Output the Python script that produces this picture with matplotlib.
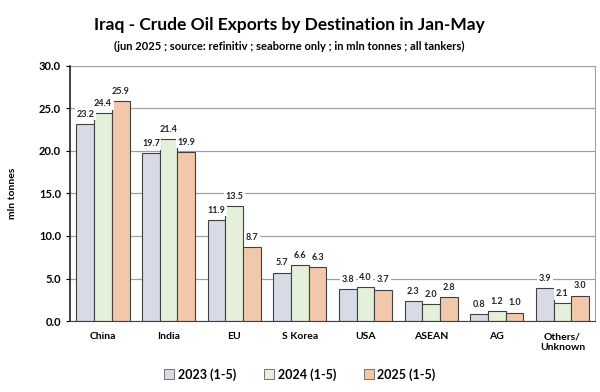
import numpy as np
import matplotlib.pyplot as plt
from matplotlib.patches import Patch

plt.rcParams['font.family'] = ['Lato', 'DejaVu Sans']

categories = ['China', 'India', 'EU', 'S Korea', 'USA', 'ASEAN', 'AG', 'Others/\nUnknown']
series_names = ['2023 (1-5)', '2024 (1-5)', '2025 (1-5)']
v2023 = [23.2, 19.7, 11.9, 5.7, 3.8, 2.3, 0.8, 3.9]
v2024 = [24.4, 21.4, 13.5, 6.6, 4.0, 2.0, 1.2, 2.1]
v2025 = [25.9, 19.9, 8.7, 6.3, 3.7, 2.8, 1.0, 3.0]
colors = ['#D7DBE5', '#E5F0DB', '#F3C8AA']

fig = plt.figure(figsize=(6, 3.92), dpi=100)
ax = fig.add_axes([0.117, 0.181, 0.875, 0.651])

x = np.arange(len(categories))
w = 0.27
for i, (vals, c) in enumerate(zip([v2023, v2024, v2025], colors)):
    pos = x + (i - 1) * w
    ax.bar(pos, vals, w, color=c, edgecolor='#404040', linewidth=0.8, zorder=2)
    for px, v in zip(pos, vals):
        ax.text(px, v + 0.6, f'{v:.1f}', ha='center', va='bottom', fontsize=6.5,
                fontweight='bold', color='#222222', zorder=3,
                bbox=dict(facecolor='white', edgecolor='none', pad=1.2))

ax.set_xlim(-0.5, len(categories) - 0.5)
ax.set_ylim(0, 30)
ax.set_yticks(np.arange(0, 30.1, 5))
ax.set_yticklabels([f'{t:.1f}' for t in np.arange(0, 30.1, 5)], fontsize=8, fontweight='bold')
ax.set_xticks(x)
ax.set_xticklabels(categories, fontsize=7.5, fontweight='bold')
ax.tick_params(axis='x', length=0, pad=8)
ax.tick_params(axis='y', length=3)
ax.yaxis.grid(True, color='#A0A0A0', linewidth=0.9, zorder=0)
ax.set_axisbelow(True)
ax.spines['left'].set_color('#202020')
ax.spines['left'].set_linewidth(1.2)
ax.spines['bottom'].set_color('#404040')
ax.spines['top'].set_visible(False)
ax.spines['right'].set_color('#A0A0A0')
ax.set_ylabel('mln tonnes', fontsize=7.5, fontweight='bold', labelpad=16)

fig.text(0.482, 0.935, 'Iraq - Crude Oil Exports by Destination in Jan-May',
         ha='center', va='center', fontsize=12.5, fontweight='bold')
fig.text(0.482, 0.882, '(jun 2025 ; source: refinitiv ; seaborne only ; in mln tonnes ; all tankers)',
         ha='center', va='center', fontsize=8, fontweight='bold')

handles = [Patch(facecolor=c, edgecolor='#606060', linewidth=0.6) for c in colors]
fig.legend(handles, series_names, loc='center', bbox_to_anchor=(0.5, 0.045), ncol=3,
           frameon=False, handlelength=0.8, handleheight=0.8,
           handletextpad=0.3, columnspacing=2.2, prop={'weight': 'bold', 'size': 9})

fig.savefig('out.png', dpi=100)
